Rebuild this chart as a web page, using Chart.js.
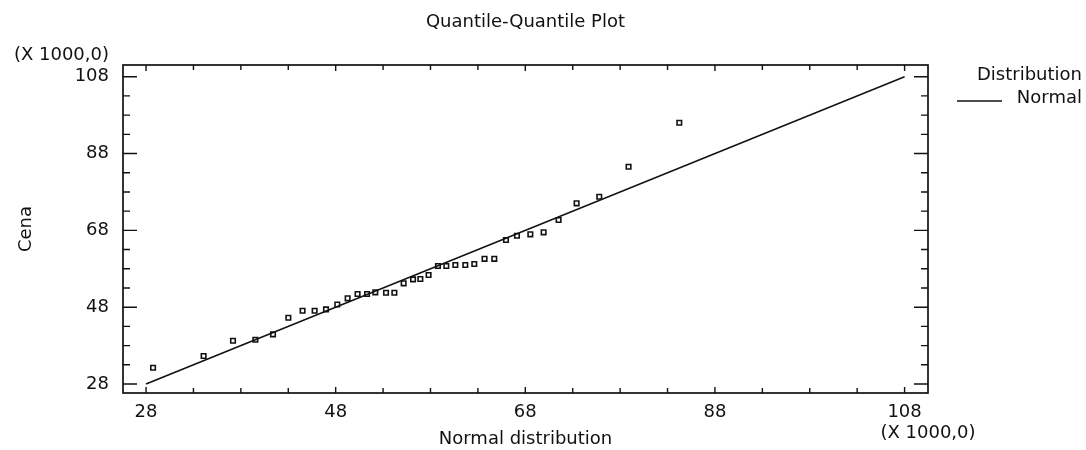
<!DOCTYPE html>
<html><head><meta charset="utf-8">
<script src="https://cdn.jsdelivr.net/npm/chart.js@4/dist/chart.umd.min.js"></script>
<style>html,body{margin:0;padding:0;background:#fff;}</style>
</head><body>
<canvas id="c" width="1086" height="450"></canvas>
<script>
// ---- data ----
const chartTitle = 'Quantile-Quantile Plot';
const xAxisTitle = 'Normal distribution';
const yAxisTitle = 'Cena';
const scaleNote = '(X 1000,0)';
const legendTitle = 'Distribution';
const seriesName = 'Normal';
// theoretical normal quantiles (x) and observed prices (y), in thousands
const normalQuantiles = [28.74, 34.07, 37.17, 39.53, 41.39, 43.01, 44.51, 45.78, 46.98, 48.17,
  49.26, 50.31, 51.31, 52.18, 53.31, 54.19, 55.17, 56.16, 56.93, 57.80,
  58.79, 59.67, 60.62, 61.67, 62.62, 63.70, 64.73, 65.96, 67.12, 68.53,
  69.93, 71.51, 73.41, 75.80, 78.89, 84.24];
const cenaValues = [32.24, 35.28, 39.27, 39.53, 40.93, 45.26, 47.08, 47.08, 47.44, 48.69,
  50.31, 51.43, 51.43, 51.87, 51.76, 51.76, 54.21, 55.25, 55.33, 56.37,
  58.72, 58.72, 58.98, 58.98, 59.24, 60.59, 60.59, 65.48, 66.60, 66.97,
  67.49, 70.69, 75.04, 76.76, 84.57, 96.02];
const refLineX = [28, 108];
const refLineY = [28, 108];
const tickValues = [28,33,38,43,48,53,58,63,68,73,78,83,88,93,98,103,108];
const majorTickLabels = [28, 48, 68, 88, 108];

// ---- styling ----
const ink = '#111';
const fontFamily = "'DejaVu Sans', sans-serif";
const fnt = {family: fontFamily, size: 18};

const setTicks = s => { s.ticks = tickValues.map(v => ({value: v})); };
const tickLabel = v => majorTickLabels.includes(v) ? String(v) : '';

const framePlugin = {
  id: 'frameTicks',
  afterDraw(chart) {
    const {ctx, chartArea: a, scales: {x, y}} = chart;
    ctx.save();
    ctx.strokeStyle = ink;
    ctx.lineWidth = 1.7;
    ctx.strokeRect(a.left, a.top, a.right - a.left, a.bottom - a.top);
    ctx.lineWidth = 1.4;
    ctx.beginPath();
    tickValues.forEach(v => {
      const major = majorTickLabels.includes(v);
      const px = x.getPixelForValue(v);
      const lx = major ? 6 : 5;
      ctx.moveTo(px, a.bottom); ctx.lineTo(px, a.bottom - lx);
      ctx.moveTo(px, a.top); ctx.lineTo(px, a.top + lx);
      const py = y.getPixelForValue(v);
      const ly = major ? 14 : 7;
      ctx.moveTo(a.left, py); ctx.lineTo(a.left + ly, py);
      ctx.moveTo(a.right, py); ctx.lineTo(a.right - ly, py);
    });
    ctx.stroke();
    // scale notes
    ctx.fillStyle = ink;
    ctx.font = `18px ${fontFamily}`;
    ctx.textBaseline = 'middle';
    ctx.textAlign = 'right';
    ctx.fillText(scaleNote, a.left - 14, a.top - 9.5);
    ctx.textAlign = 'center';
    ctx.fillText(scaleNote, a.right, a.bottom + 40.5);
    // legend
    ctx.textAlign = 'right';
    ctx.fillText(legendTitle, chart.width - 4, a.top + 10.5);
    ctx.fillText(seriesName, chart.width - 4, a.top + 33);
    ctx.lineWidth = 1.4;
    ctx.beginPath();
    ctx.moveTo(a.right + 29, a.top + 36);
    ctx.lineTo(a.right + 74, a.top + 36);
    ctx.stroke();
    ctx.restore();
  }
};

new Chart(document.getElementById('c'), {
  type: 'scatter',
  data: {
    datasets: [
      {
        label: yAxisTitle,
        data: normalQuantiles.map((v, i) => ({x: v, y: cenaValues[i]})),
        pointStyle: 'rect',
        pointRadius: 3.2,
        borderColor: ink,
        backgroundColor: 'rgba(0,0,0,0)',
        borderWidth: 1.6
      },
      {
        label: seriesName,
        type: 'line',
        data: refLineX.map((v, i) => ({x: v, y: refLineY[i]})),
        borderColor: ink,
        borderWidth: 1.5,
        pointRadius: 0,
        fill: false
      }
    ]
  },
  options: {
    responsive: false,
    devicePixelRatio: 1,
    animation: false,
    layout: {padding: {left: 0, right: 158, top: 0, bottom: 0}},
    plugins: {
      legend: {display: false},
      tooltip: {enabled: false},
      title: {
        display: true, text: chartTitle, fullSize: false, color: ink,
        font: {family: fontFamily, size: 18, weight: 'normal'},
        padding: {top: 12, bottom: 31.4}
      }
    },
    scales: {
      x: {
        type: 'linear', position: 'bottom', min: 25.57, max: 110.47,
        afterBuildTicks: setTicks,
        afterFit: s => { s.height = 57; },
        ticks: {callback: tickLabel, autoSkip: false, maxRotation: 0, padding: 9, color: ink, font: fnt},
        grid: {display: false, drawTicks: false},
        border: {display: false},
        title: {display: true, text: xAxisTitle, color: ink, font: fnt, padding: {top: 0, bottom: 0}}
      },
      y: {
        type: 'linear', position: 'left', min: 25.66, max: 111.05,
        afterBuildTicks: setTicks,
        afterFit: s => { s.width = 123; },
        ticks: {callback: tickLabel, autoSkip: false, padding: 14, color: ink, font: fnt},
        grid: {display: false, drawTicks: false},
        border: {display: false},
        title: {display: true, text: yAxisTitle, color: ink, font: fnt, padding: {top: 16, bottom: 0}}
      }
    }
  },
  plugins: [framePlugin]
});
</script>
</body></html>
